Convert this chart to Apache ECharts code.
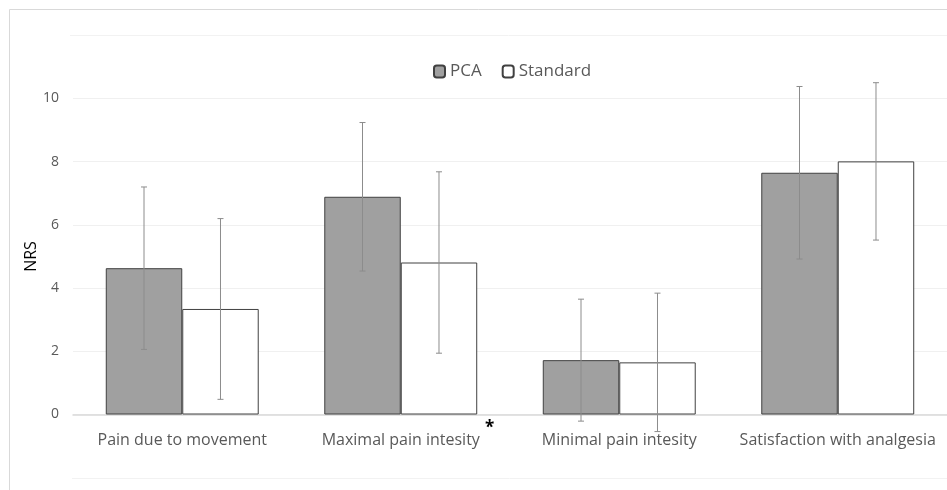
<!DOCTYPE html>
<html>
<head>
<meta charset="utf-8">
<script src="https://cdn.jsdelivr.net/npm/echarts@6/dist/echarts.min.js"></script>
<style>
  html, body { margin: 0; padding: 0; background: #fff; }
  #main { width: 947px; height: 490px; }
</style>
</head>
<body>
<div id="main"></div>
<script>
// 数据
var categories = ['Pain due to movement', 'Maximal pain intesity', 'Minimal pain intesity', 'Satisfaction with analgesia'];
var pcaMean = [4.63, 6.89, 1.72, 7.65];
var pcaSD = [2.57, 2.35, 1.93, 2.73];
var stdMean = [3.34, 4.81, 1.65, 8.01];
var stdSD = [2.86, 2.87, 2.19, 2.49];

var fontFam = '"Open Sans", "Noto Sans", sans-serif';

function errData(mean, sd) {
  var out = [];
  for (var i = 0; i < mean.length; i++) {
    out.push([i, mean[i] - sd[i], mean[i] + sd[i]]);
  }
  return out;
}

// 误差线
function errorBar(side) {
  return function (params, api) {
    var band = api.size([1, 0])[0];
    var off = band * 0.175 * side;
    var lo = api.coord([api.value(0), api.value(1)]);
    var hi = api.coord([api.value(0), api.value(2)]);
    var x = lo[0] + off;
    var cap = 3;
    var st = { stroke: '#8c8c8c', lineWidth: 1 };
    return {
      type: 'group',
      children: [
        { type: 'line', shape: { x1: x, y1: lo[1], x2: x, y2: hi[1] }, style: st },
        { type: 'line', shape: { x1: x - cap, y1: lo[1], x2: x + cap, y2: lo[1] }, style: st },
        { type: 'line', shape: { x1: x - cap, y1: hi[1], x2: x + cap, y2: hi[1] }, style: st }
      ]
    };
  };
}

var dom = document.getElementById('main');
var myChart = echarts.init(dom);

var option = {
  animation: false,
  backgroundColor: '#fff',
  legend: {
    data: ['PCA', 'Standard'],
    top: 58,
    left: 428,
    itemWidth: 11,
    itemHeight: 12,
    itemGap: 20,
    textStyle: { color: '#595959', fontSize: 17, fontFamily: fontFam }
  },
  grid: { left: 73, width: 881, top: 98.5, bottom: 75.5, containLabel: false },
  xAxis: {
    type: 'category',
    data: categories,
    axisLine: { lineStyle: { color: '#d9d9d9', width: 1.5 } },
    axisTick: { show: false },
    axisLabel: { color: '#595959', fontSize: 16, fontFamily: fontFam, margin: 18, interval: 0 }
  },
  yAxis: {
    type: 'value',
    min: 0,
    max: 10,
    interval: 2,
    name: 'NRS',
    nameLocation: 'middle',
    nameGap: 34,
    nameMoveOverlap: false,
    nameTextStyle: { color: '#000', fontSize: 16, fontFamily: fontFam },
    axisLine: { show: false },
    axisTick: { show: false },
    axisLabel: { color: '#595959', fontSize: 14, fontFamily: fontFam, margin: 14 },
    splitLine: { lineStyle: { color: '#f0f0f0', width: 1 } }
  },
  series: [
    {
      name: 'PCA',
      type: 'bar',
      data: pcaMean,
      barGap: 0,
      barCategoryGap: '30%',
      itemStyle: { color: '#a0a0a0', borderColor: '#404040', borderWidth: 1 }
    },
    {
      name: 'Standard',
      type: 'bar',
      data: stdMean,
      barGap: 0,
      barCategoryGap: '30%',
      itemStyle: { color: '#ffffff', borderColor: '#404040', borderWidth: 1 }
    },
    {
      type: 'custom',
      clip: false,
      z: 5,
      renderItem: errorBar(-1),
      encode: { x: 0, y: [1, 2] },
      data: errData(pcaMean, pcaSD)
    },
    {
      type: 'custom',
      clip: false,
      z: 5,
      renderItem: errorBar(1),
      encode: { x: 0, y: [1, 2] },
      data: errData(stdMean, stdSD)
    }
  ],
  graphic: [
    { type: 'rect', silent: true, shape: { x: 9.5, y: 9.5, width: 960, height: 500 }, style: { fill: 'none', stroke: '#d9d9d9', lineWidth: 1 } },
    { type: 'line', silent: true, shape: { x1: 70, y1: 35.5, x2: 947, y2: 35.5 }, style: { stroke: '#f2f2f2', lineWidth: 1 } },
    { type: 'line', silent: true, shape: { x1: 72, y1: 478.5, x2: 947, y2: 478.5 }, style: { stroke: '#f2f2f2', lineWidth: 1 } },
    { type: 'text', silent: true, left: 485, top: 420, style: { text: '*', fill: '#000', font: 'bold 17px ' + fontFam } }
  ]
};

if (option && typeof option === 'object') {
  myChart.setOption(option, true);
}
</script>
</body>
</html>
